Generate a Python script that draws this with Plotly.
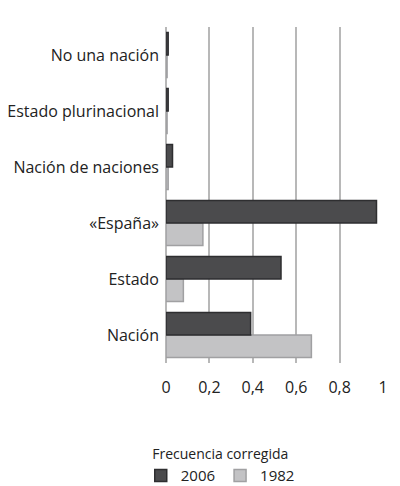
import plotly.graph_objects as go

categorias = ["Nación", "Estado", "«España»", "Nación de naciones",
              "Estado plurinacional", "No una nación"]
valores_2006 = [0.39, 0.53, 0.97, 0.03, 0.01, 0.01]
valores_1982 = [0.67, 0.08, 0.17, 0.01, 0.005, 0.005]
ticks = [0, 0.2, 0.4, 0.6, 0.8, 1]
tick_labels = ["0", "0,2", "0,4", "0,6", "0,8", "1"]

fig = go.Figure()
fig.add_trace(go.Bar(
    y=categorias, x=valores_1982, name="1982", orientation="h",
    marker=dict(color="#c3c3c5", line=dict(color="#a0a0a2", width=1.5)),
))
fig.add_trace(go.Bar(
    y=categorias, x=valores_2006, name="2006", orientation="h",
    marker=dict(color="#4b4b4d", line=dict(color="#2e2e30", width=1.5)),
))

fig.update_layout(
    width=400, height=486,
    margin=dict(l=158, r=25, t=19, b=131, autoexpand=False),
    plot_bgcolor="white", paper_bgcolor="white",
    font=dict(family="Open Sans, Lato, sans-serif", size=16, color="#222222"),
    barmode="group", bargap=0.2, bargroupgap=0.0,
    showlegend=True,
    legend=dict(
        orientation="h", x=0.25, xanchor="center",
        y=-0.232, yanchor="top",
        traceorder="reversed", itemwidth=30,
        title=dict(text="Frecuencia corregida", side="top center",
                   font=dict(size=14)),
        font=dict(size=15),
    ),
)
fig.update_xaxes(
    range=[0, 1.0], tickvals=ticks, ticktext=tick_labels,
    showgrid=True, gridcolor="#b8b8b8", gridwidth=1.5,
    zeroline=True, zerolinecolor="#b8b8b8", zerolinewidth=1.5,
    showline=False, ticks="outside", ticklen=10, tickcolor="rgba(0,0,0,0)",
    tickfont=dict(size=16), automargin=False,
)
fig.update_yaxes(
    showgrid=False, showline=False, ticks="", ticklabelstandoff=6,
    automargin=False,
)

fig.write_html("out.html")
